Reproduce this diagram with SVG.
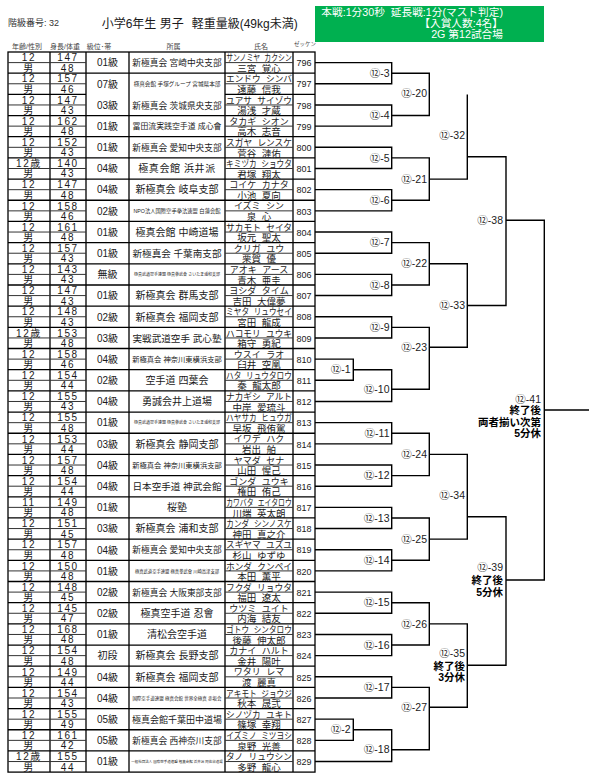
<svg xmlns="http://www.w3.org/2000/svg" width="589" height="784" viewBox="0 0 589 784">
<style>
text{font-family:"Liberation Sans","Noto Sans CJK JP",sans-serif;fill:#1a1a1a}
.c{text-anchor:middle}
.n{font-size:10px;letter-spacing:1.6px}
.g{font-size:10px}
.a{font-size:10px}
.k{font-size:9px;word-spacing:3px}
.j{font-size:9.5px;word-spacing:3px}
.z{font-size:9px}
.s{stroke:#333;stroke-width:1;fill:none}
.gl{stroke:#000;stroke-width:1.3;fill:none}
.cn{stroke:#000;stroke-width:1.4;fill:none}
.m{font-size:10.5px;text-anchor:end;fill:#222}
.mb{font-size:10.5px;font-weight:bold;text-anchor:end;fill:#000}
.h{font-size:7px;fill:#444;text-anchor:middle}
.w{fill:#fff;font-size:10.7px;text-anchor:end}
</style>
<rect width="589" height="784" fill="#fff"/>
<g id="header">
<text x="8" y="26" style="font-size:9px;fill:#333">階級番号: 32</text>
<text x="101.7" y="27.5" style="font-size:12px">小学6年生 男子</text>
<text x="191.7" y="27.5" style="font-size:12px">軽重量級(49kg未満)</text>
<rect x="315" y="6" width="229" height="36" fill="#00B050"/>
<text class="w" x="503" y="16" xml:space="preserve">本戦:1分30秒  延長戦:1分(マスト判定)</text>
<text class="w" x="503" y="27">【入賞人数:4名】</text>
<text class="w" x="503" y="38">2G 第12試合場</text>
<text class="h" x="27" y="49">年齢/性別</text>
<text class="h" x="65" y="49">身長/体重</text>
<text class="h" x="99" y="49">級位･帯</text>
<text class="h" x="173.5" y="49">所属</text>
<text class="h" x="261" y="49">氏名</text>
<text class="h" x="305" y="46" style="font-size:5.5px">ゼッケン</text>
</g>
<g id="table-grid">
<rect class="gl" x="8" y="52" width="307" height="720.1"/>
<path class="gl" d="M50 52V772.1M86 52V772.1M129 52V772.1M225 52V772.1M293 52V772.1"/>
<path class="gl" d="M8 73.18H315M8 94.36H86M225 94.36H315M8 115.54H315M8 136.72H315M8 157.9H315M8 179.08H315M8 200.26H315M8 221.44H315M8 242.62H315M8 263.8H315M8 284.98H315M8 306.16H315M8 327.34H315M8 348.52H315M8 369.7H315M8 390.88H315M8 412.06H315M8 433.24H315M8 454.42H315M8 475.6H315M8 496.78H315M8 517.96H315M8 539.14H315M8 560.32H315M8 581.5H315M8 602.68H315M8 623.86H315M8 645.04H315M8 666.22H315M8 687.4H315M8 708.58H315M8 729.76H315M8 750.94H315"/>
</g>
<g id="e796" transform="translate(0,52)"><path class="s" d="M8 10.6H86M225 10.6H293"/><text class="c n" x="29" y="9.3">12</text><text class="c n" x="68" y="9.3">147</text><text class="c n" x="29" y="19.6">男</text><text class="c n" x="68" y="19.6">48</text><text class="c g" x="107.5" y="14.4">01級</text><text class="c a" x="177" y="14.2" style="font-size:8.7px">新極真会 宮崎中央支部</text><text class="c k" transform="translate(259,9.2) scale(0.763,1)">サンノミヤ カクシン</text><text class="c j" x="259" y="19.8">三宮 覚心</text><text class="c z" x="304" y="14.3">796</text></g>
<g id="e797" transform="translate(0,73.18)"><path class="s" d="M8 10.6H86M225 10.6H293"/><text class="c n" x="29" y="9.3">12</text><text class="c n" x="68" y="9.3">157</text><text class="c n" x="29" y="19.6">男</text><text class="c n" x="68" y="19.6">46</text><text class="c g" x="107.5" y="14.4">07級</text><text class="c a" x="177" y="13.2" style="font-size:5.6px">極真会館 手塚グループ 宮城県本部</text><text class="c k" x="259" y="9.2" textLength="66" lengthAdjust="spacingAndGlyphs">エンドウ シンバ</text><text class="c j" x="259" y="19.8">遠藤 信我</text><text class="c z" x="304" y="14.3">797</text></g>
<g id="e798" transform="translate(0,94.36)"><path class="s" d="M8 10.6H86M225 10.6H293"/><text class="c n" x="29" y="9.3">12</text><text class="c n" x="68" y="9.3">147</text><text class="c n" x="29" y="19.6">男</text><text class="c n" x="68" y="19.6">43</text><text class="c g" x="107.5" y="14.4">03級</text><text class="c a" x="177" y="14.2" style="font-size:8.7px">新極真会 茨城県央支部</text><text class="c k" x="259" y="9.2" textLength="66" lengthAdjust="spacingAndGlyphs">ユアサ サイゾウ</text><text class="c j" x="259" y="19.8">湯浅 才蔵</text><text class="c z" x="304" y="14.3">798</text></g>
<g id="e799" transform="translate(0,115.54)"><path class="s" d="M8 10.6H86M225 10.6H293"/><text class="c n" x="29" y="9.3">12</text><text class="c n" x="68" y="9.3">162</text><text class="c n" x="29" y="19.6">男</text><text class="c n" x="68" y="19.6">48</text><text class="c g" x="107.5" y="14.4">01級</text><text class="c a" x="177" y="13.8" style="font-size:7.9px">冨田流実践空手道 成心會</text><text class="c k" x="259" y="9.2">タカギ シオン</text><text class="c j" x="259" y="19.8">高木 志音</text><text class="c z" x="304" y="14.3">799</text></g>
<g id="e800" transform="translate(0,136.72)"><path class="s" d="M8 10.6H86M225 10.6H293"/><text class="c n" x="29" y="9.3">12</text><text class="c n" x="68" y="9.3">152</text><text class="c n" x="29" y="19.6">男</text><text class="c n" x="68" y="19.6">43</text><text class="c g" x="107.5" y="14.4">01級</text><text class="c a" x="177" y="14.2" style="font-size:8.7px">新極真会 愛知中央支部</text><text class="c k" x="259" y="9.2" textLength="66" lengthAdjust="spacingAndGlyphs">スガヤ レンスケ</text><text class="c j" x="259" y="19.8">菅谷 漣佑</text><text class="c z" x="304" y="14.3">800</text></g>
<g id="e801" transform="translate(0,157.9)"><path class="s" d="M8 10.6H86M225 10.6H293"/><text class="c n" x="29" y="9.3">12歳</text><text class="c n" x="68" y="9.3">140</text><text class="c n" x="29" y="19.6">男</text><text class="c n" x="68" y="19.6">43</text><text class="c g" x="107.5" y="14.4">04級</text><text class="c a" x="177" y="14.4" style="letter-spacing:0.6px">極真会館 浜井派</text><text class="c k" transform="translate(259,9.2) scale(0.85,1)">キミヅカ ショウタ</text><text class="c j" x="259" y="19.8">君塚 翔太</text><text class="c z" x="304" y="14.3">801</text></g>
<g id="e802" transform="translate(0,179.08)"><path class="s" d="M8 10.6H86M225 10.6H293"/><text class="c n" x="29" y="9.3">12</text><text class="c n" x="68" y="9.3">147</text><text class="c n" x="29" y="19.6">男</text><text class="c n" x="68" y="19.6">48</text><text class="c g" x="107.5" y="14.4">04級</text><text class="c a" x="177" y="14.4">新極真会 岐阜支部</text><text class="c k" x="259" y="9.2">コイケ カナタ</text><text class="c j" x="259" y="19.8">小池 夏向</text><text class="c z" x="304" y="14.3">802</text></g>
<g id="e803" transform="translate(0,200.26)"><path class="s" d="M8 10.6H86M225 10.6H293"/><text class="c n" x="29" y="9.3">12</text><text class="c n" x="68" y="9.3">158</text><text class="c n" x="29" y="19.6">男</text><text class="c n" x="68" y="19.6">46</text><text class="c g" x="107.5" y="14.4">02級</text><text class="c a" x="177" y="12.6" style="font-size:5.3px">NPO法人国際空手拳法連盟 白蓮会館</text><text class="c k" x="259" y="9.2">イズミ シン</text><text class="c j" x="259" y="19.8">泉 心</text><text class="c z" x="304" y="14.3">803</text></g>
<g id="e804" transform="translate(0,221.44)"><path class="s" d="M8 10.6H86M225 10.6H293"/><text class="c n" x="29" y="9.3">12</text><text class="c n" x="68" y="9.3">161</text><text class="c n" x="29" y="19.6">男</text><text class="c n" x="68" y="19.6">48</text><text class="c g" x="107.5" y="14.4">01級</text><text class="c a" x="177" y="14.4">極真会館 中崎道場</text><text class="c k" x="259" y="9.2" textLength="66" lengthAdjust="spacingAndGlyphs">サカモト セイタ</text><text class="c j" x="259" y="19.8">坂元 聖太</text><text class="c z" x="304" y="14.3">804</text></g>
<g id="e805" transform="translate(0,242.62)"><path class="s" d="M8 10.6H86M225 10.6H293"/><text class="c n" x="29" y="9.3">12</text><text class="c n" x="68" y="9.3">157</text><text class="c n" x="29" y="19.6">男</text><text class="c n" x="68" y="19.6">43</text><text class="c g" x="107.5" y="14.4">01級</text><text class="c a" x="177" y="14.3" style="font-size:9.6px">新極真会 千葉南支部</text><text class="c k" x="259" y="9.2">クリガ ユウ</text><text class="c j" x="259" y="19.8">栗賀 優</text><text class="c z" x="304" y="14.3">805</text></g>
<g id="e806" transform="translate(0,263.8)"><path class="s" d="M8 10.6H86M225 10.6H293"/><text class="c n" x="29" y="9.3">12</text><text class="c n" x="68" y="9.3">143</text><text class="c n" x="29" y="19.6">男</text><text class="c n" x="68" y="19.6">43</text><text class="c g" x="107.5" y="14.4">無級</text><text class="c a" x="177" y="12.2" style="font-size:4px">極真武道空手連盟 極真拳武會 さいたま浦和支部</text><text class="c k" x="259" y="9.2">アオキ アース</text><text class="c j" x="259" y="19.8">青木 亜圭</text><text class="c z" x="304" y="14.3">806</text></g>
<g id="e807" transform="translate(0,284.98)"><path class="s" d="M8 10.6H86M225 10.6H293"/><text class="c n" x="29" y="9.3">12</text><text class="c n" x="68" y="9.3">147</text><text class="c n" x="29" y="19.6">男</text><text class="c n" x="68" y="19.6">43</text><text class="c g" x="107.5" y="14.4">01級</text><text class="c a" x="177" y="14.4">新極真会 群馬支部</text><text class="c k" x="259" y="9.2">ヨシダ タイム</text><text class="c j" x="259" y="19.8">吉田 大偉夢</text><text class="c z" x="304" y="14.3">807</text></g>
<g id="e808" transform="translate(0,306.16)"><path class="s" d="M8 10.6H86M225 10.6H293"/><text class="c n" x="29" y="9.3">12</text><text class="c n" x="68" y="9.3">148</text><text class="c n" x="29" y="19.6">男</text><text class="c n" x="68" y="19.6">43</text><text class="c g" x="107.5" y="14.4">02級</text><text class="c a" x="177" y="14.4">新極真会 福岡支部</text><text class="c k" transform="translate(259,9.2) scale(0.85,1)">ミヤタ リュウセイ</text><text class="c j" x="259" y="19.8">宮田 龍成</text><text class="c z" x="304" y="14.3">808</text></g>
<g id="e809" transform="translate(0,327.34)"><path class="s" d="M8 10.6H86M225 10.6H293"/><text class="c n" x="29" y="9.3">12歳</text><text class="c n" x="68" y="9.3">153</text><text class="c n" x="29" y="19.6">男</text><text class="c n" x="68" y="19.6">48</text><text class="c g" x="107.5" y="14.4">03級</text><text class="c a" x="177" y="14.3" style="font-size:9.6px">実戦武道空手 武心塾</text><text class="c k" x="259" y="9.2" textLength="66" lengthAdjust="spacingAndGlyphs">ハコモリ ユウキ</text><text class="c j" x="259" y="19.8">箱守 勇紀</text><text class="c z" x="304" y="14.3">809</text></g>
<g id="e810" transform="translate(0,348.52)"><path class="s" d="M8 10.6H86M225 10.6H293"/><text class="c n" x="29" y="9.3">12</text><text class="c n" x="68" y="9.3">158</text><text class="c n" x="29" y="19.6">男</text><text class="c n" x="68" y="19.6">46</text><text class="c g" x="107.5" y="14.4">04級</text><text class="c a" x="177" y="13.5" style="font-size:7.3px">新極真会 神奈川東横浜支部</text><text class="c k" x="259" y="9.2">ウスイ ラオ</text><text class="c j" x="259" y="19.8">臼井 空凰</text><text class="c z" x="304" y="14.3">810</text></g>
<g id="e811" transform="translate(0,369.7)"><path class="s" d="M8 10.6H86M225 10.6H293"/><text class="c n" x="29" y="9.3">12</text><text class="c n" x="68" y="9.3">154</text><text class="c n" x="29" y="19.6">男</text><text class="c n" x="68" y="19.6">44</text><text class="c g" x="107.5" y="14.4">02級</text><text class="c a" x="177" y="14.4">空手道 四葉会</text><text class="c k" transform="translate(259,9.2) scale(0.85,1)">ハタ リュウタロウ</text><text class="c j" x="259" y="19.8">秦 龍太郎</text><text class="c z" x="304" y="14.3">811</text></g>
<g id="e812" transform="translate(0,390.88)"><path class="s" d="M8 10.6H86M225 10.6H293"/><text class="c n" x="29" y="9.3">12</text><text class="c n" x="68" y="9.3">155</text><text class="c n" x="29" y="19.6">男</text><text class="c n" x="68" y="19.6">43</text><text class="c g" x="107.5" y="14.4">04級</text><text class="c a" x="177" y="14.4">勇誠会井上道場</text><text class="c k" x="259" y="9.2" textLength="66" lengthAdjust="spacingAndGlyphs">ナカギシ アルト</text><text class="c j" x="259" y="19.8">中岸 愛琉斗</text><text class="c z" x="304" y="14.3">812</text></g>
<g id="e813" transform="translate(0,412.06)"><path class="s" d="M8 10.6H86M225 10.6H293"/><text class="c n" x="29" y="9.3">12</text><text class="c n" x="68" y="9.3">155</text><text class="c n" x="29" y="19.6">男</text><text class="c n" x="68" y="19.6">48</text><text class="c g" x="107.5" y="14.4">01級</text><text class="c a" x="177" y="12.2" style="font-size:4px">極真武道空手連盟 極真拳武會 さいたま浦和支部</text><text class="c k" transform="translate(259,9.2) scale(0.85,1)">ハヤサカ ヒュウガ</text><text class="c j" x="259" y="19.8">早坂 飛侑駕</text><text class="c z" x="304" y="14.3">813</text></g>
<g id="e814" transform="translate(0,433.24)"><path class="s" d="M8 10.6H86M225 10.6H293"/><text class="c n" x="29" y="9.3">12</text><text class="c n" x="68" y="9.3">153</text><text class="c n" x="29" y="19.6">男</text><text class="c n" x="68" y="19.6">44</text><text class="c g" x="107.5" y="14.4">03級</text><text class="c a" x="177" y="14.4">新極真会 静岡支部</text><text class="c k" x="259" y="9.2">イワデ ハク</text><text class="c j" x="259" y="19.8">岩出 舶</text><text class="c z" x="304" y="14.3">814</text></g>
<g id="e815" transform="translate(0,454.42)"><path class="s" d="M8 10.6H86M225 10.6H293"/><text class="c n" x="29" y="9.3">12</text><text class="c n" x="68" y="9.3">157</text><text class="c n" x="29" y="19.6">男</text><text class="c n" x="68" y="19.6">48</text><text class="c g" x="107.5" y="14.4">04級</text><text class="c a" x="177" y="13.5" style="font-size:7.3px">新極真会 神奈川東横浜支部</text><text class="c k" x="259" y="9.2">ヤマダ セナ</text><text class="c j" x="259" y="19.8">山田 惺己</text><text class="c z" x="304" y="14.3">815</text></g>
<g id="e816" transform="translate(0,475.6)"><path class="s" d="M8 10.6H86M225 10.6H293"/><text class="c n" x="29" y="9.3">12</text><text class="c n" x="68" y="9.3">154</text><text class="c n" x="29" y="19.6">男</text><text class="c n" x="68" y="19.6">44</text><text class="c g" x="107.5" y="14.4">04級</text><text class="c a" x="177" y="14.3" style="font-size:9.6px">日本空手道 神武会館</text><text class="c k" x="259" y="9.2">ゴンダ ユウキ</text><text class="c j" x="259" y="19.8">権田 侑己</text><text class="c z" x="304" y="14.3">816</text></g>
<g id="e817" transform="translate(0,496.78)"><path class="s" d="M8 10.6H86M225 10.6H293"/><text class="c n" x="29" y="9.3">11</text><text class="c n" x="68" y="9.3">149</text><text class="c n" x="29" y="19.6">男</text><text class="c n" x="68" y="19.6">48</text><text class="c g" x="107.5" y="14.4">01級</text><text class="c a" x="177" y="14.4">桜塾</text><text class="c k" transform="translate(259,9.2) scale(0.763,1)">カワバタ エイタロウ</text><text class="c j" x="259" y="19.8">川端 英太朗</text><text class="c z" x="304" y="14.3">817</text></g>
<g id="e818" transform="translate(0,517.96)"><path class="s" d="M8 10.6H86M225 10.6H293"/><text class="c n" x="29" y="9.3">12</text><text class="c n" x="68" y="9.3">151</text><text class="c n" x="29" y="19.6">男</text><text class="c n" x="68" y="19.6">45</text><text class="c g" x="107.5" y="14.4">03級</text><text class="c a" x="177" y="14.4">新極真会 浦和支部</text><text class="c k" transform="translate(259,9.2) scale(0.85,1)">カンダ シンノスケ</text><text class="c j" x="259" y="19.8">神田 真之介</text><text class="c z" x="304" y="14.3">818</text></g>
<g id="e819" transform="translate(0,539.14)"><path class="s" d="M8 10.6H86M225 10.6H293"/><text class="c n" x="29" y="9.3">12</text><text class="c n" x="68" y="9.3">157</text><text class="c n" x="29" y="19.6">男</text><text class="c n" x="68" y="19.6">48</text><text class="c g" x="107.5" y="14.4">04級</text><text class="c a" x="177" y="14.2" style="font-size:8.7px">新極真会 愛知中央支部</text><text class="c k" x="259" y="9.2" textLength="66" lengthAdjust="spacingAndGlyphs">スギヤマ ユズユ</text><text class="c j" x="259" y="19.8">杉山 ゆずゆ</text><text class="c z" x="304" y="14.3">819</text></g>
<g id="e820" transform="translate(0,560.32)"><path class="s" d="M8 10.6H86M225 10.6H293"/><text class="c n" x="29" y="9.3">12</text><text class="c n" x="68" y="9.3">150</text><text class="c n" x="29" y="19.6">男</text><text class="c n" x="68" y="19.6">48</text><text class="c g" x="107.5" y="14.4">01級</text><text class="c a" x="177" y="12.3" style="font-size:4.3px">極真武道空手連盟 極真拳武會 川崎高津支部</text><text class="c k" x="259" y="9.2" textLength="66" lengthAdjust="spacingAndGlyphs">ホンダ クンペイ</text><text class="c j" x="259" y="19.8">本田 薫平</text><text class="c z" x="304" y="14.3">820</text></g>
<g id="e821" transform="translate(0,581.5)"><path class="s" d="M8 10.6H86M225 10.6H293"/><text class="c n" x="29" y="9.3">12</text><text class="c n" x="68" y="9.3">148</text><text class="c n" x="29" y="19.6">男</text><text class="c n" x="68" y="19.6">45</text><text class="c g" x="107.5" y="14.4">02級</text><text class="c a" x="177" y="14.2" style="font-size:8.7px">新極真会 大阪東部支部</text><text class="c k" x="259" y="9.2" textLength="66" lengthAdjust="spacingAndGlyphs">フクダ リョウタ</text><text class="c j" x="259" y="19.8">福田 遼太</text><text class="c z" x="304" y="14.3">821</text></g>
<g id="e822" transform="translate(0,602.68)"><path class="s" d="M8 10.6H86M225 10.6H293"/><text class="c n" x="29" y="9.3">12</text><text class="c n" x="68" y="9.3">145</text><text class="c n" x="29" y="19.6">男</text><text class="c n" x="68" y="19.6">47</text><text class="c g" x="107.5" y="14.4">02級</text><text class="c a" x="177" y="14.4">極真空手道 忍會</text><text class="c k" x="259" y="9.2">ウツミ ユイト</text><text class="c j" x="259" y="19.8">内海 結友</text><text class="c z" x="304" y="14.3">822</text></g>
<g id="e823" transform="translate(0,623.86)"><path class="s" d="M8 10.6H86M225 10.6H293"/><text class="c n" x="29" y="9.3">12</text><text class="c n" x="68" y="9.3">168</text><text class="c n" x="29" y="19.6">男</text><text class="c n" x="68" y="19.6">48</text><text class="c g" x="107.5" y="14.4">01級</text><text class="c a" x="177" y="14.4">清松会空手道</text><text class="c k" transform="translate(259,9.2) scale(0.85,1)">ゴトウ シンタロウ</text><text class="c j" x="259" y="19.8">後藤 伸太郎</text><text class="c z" x="304" y="14.3">823</text></g>
<g id="e824" transform="translate(0,645.04)"><path class="s" d="M8 10.6H86M225 10.6H293"/><text class="c n" x="29" y="9.3">12</text><text class="c n" x="68" y="9.3">154</text><text class="c n" x="29" y="19.6">男</text><text class="c n" x="68" y="19.6">48</text><text class="c g" x="107.5" y="14.4">初段</text><text class="c a" x="177" y="14.4">新極真会 長野支部</text><text class="c k" x="259" y="9.2">カナイ ハルト</text><text class="c j" x="259" y="19.8">金井 陽叶</text><text class="c z" x="304" y="14.3">824</text></g>
<g id="e825" transform="translate(0,666.22)"><path class="s" d="M8 10.6H86M225 10.6H293"/><text class="c n" x="29" y="9.3">12</text><text class="c n" x="68" y="9.3">149</text><text class="c n" x="29" y="19.6">男</text><text class="c n" x="68" y="19.6">44</text><text class="c g" x="107.5" y="14.4">04級</text><text class="c a" x="177" y="14.4">新極真会 福岡支部</text><text class="c k" x="259" y="9.2">ワタリ レマ</text><text class="c j" x="259" y="19.8">渡 麗真</text><text class="c z" x="304" y="14.3">825</text></g>
<g id="e826" transform="translate(0,687.4)"><path class="s" d="M8 10.6H86M225 10.6H293"/><text class="c n" x="29" y="9.3">12</text><text class="c n" x="68" y="9.3">154</text><text class="c n" x="29" y="19.6">男</text><text class="c n" x="68" y="19.6">43</text><text class="c g" x="107.5" y="14.4">04級</text><text class="c a" x="177" y="12.4" style="font-size:4.5px">国際空手道連盟 極真会館 世界全極真 赤坂会</text><text class="c k" transform="translate(259,9.2) scale(0.85,1)">アキモト ジョウジ</text><text class="c j" x="259" y="19.8">秋本 晟弐</text><text class="c z" x="304" y="14.3">826</text></g>
<g id="e827" transform="translate(0,708.58)"><path class="s" d="M8 10.6H86M225 10.6H293"/><text class="c n" x="29" y="9.3">12</text><text class="c n" x="68" y="9.3">155</text><text class="c n" x="29" y="19.6">男</text><text class="c n" x="68" y="19.6">49</text><text class="c g" x="107.5" y="14.4">05級</text><text class="c a" x="177" y="14.1" style="font-size:9px">極真会館千葉田中道場</text><text class="c k" x="259" y="9.2" textLength="66" lengthAdjust="spacingAndGlyphs">シノヅカ ユキト</text><text class="c j" x="259" y="19.8">篠塚 幸翔</text><text class="c z" x="304" y="14.3">827</text></g>
<g id="e828" transform="translate(0,729.76)"><path class="s" d="M8 10.6H86M225 10.6H293"/><text class="c n" x="29" y="9.3">12</text><text class="c n" x="68" y="9.3">161</text><text class="c n" x="29" y="19.6">男</text><text class="c n" x="68" y="19.6">42</text><text class="c g" x="107.5" y="14.4">05級</text><text class="c a" x="177" y="14.2" style="font-size:8.7px">新極真会 西神奈川支部</text><text class="c k" transform="translate(259,9.2) scale(0.85,1)">イズミノ ミツヨシ</text><text class="c j" x="259" y="19.8">泉野 光善</text><text class="c z" x="304" y="14.3">828</text></g>
<g id="e829" transform="translate(0,750.94)"><path class="s" d="M8 10.6H86M225 10.6H293"/><text class="c n" x="29" y="9.3">12歳</text><text class="c n" x="68" y="9.3">155</text><text class="c n" x="29" y="19.6">男</text><text class="c n" x="68" y="19.6">44</text><text class="c g" x="107.5" y="14.4">01級</text><text class="c a" x="177" y="12" style="font-size:3.5px">一般社団法人 国際空手道連盟 極真会館 浜井派 阿佐谷道場</text><text class="c k" x="259" y="9.2" textLength="66" lengthAdjust="spacingAndGlyphs">タノ リュウシン</text><text class="c j" x="259" y="19.8">多野 龍心</text><text class="c z" x="304" y="14.3">829</text></g>
<g id="connectors">
<path class="cn" d="M315 62.59H391.7V83.77H315M315 104.95H391.7V126.13H315M315 147.31H391.7V168.49H315M315 189.67H391.7V210.85H315M315 232.03H391.7V253.21H315M315 274.39H391.7V295.57H315M315 316.75H391.7V337.93H315M315 359.11H353.3V380.29H315M353.3 369.7H391.7V401.47H315M315 422.65H391.7V443.83H315M315 465.01H391.7V486.19H315M315 507.37H391.7V528.55H315M315 549.73H391.7V570.91H315M315 592.09H391.7V613.27H315M315 634.45H391.7V655.63H315M315 676.81H391.7V697.99H315M315 719.17H353.3V740.35H315M353.3 729.76H391.7V761.53H315"/>
<path class="cn" d="M391.7 73.18H429.3V115.54H391.7M391.7 157.9H429.3V200.26H391.7M391.7 242.62H429.3V284.98H391.7M391.7 327.34H429.3V389.3H391.7M391.7 433.24H429.3V475.6H391.7M391.7 517.96H429.3V560.32H391.7M391.7 602.68H429.3V645.04H391.7M391.7 687.4H429.3V749.7H391.7"/>
<path class="cn" d="M467.3 94.4V179.08H429.3M429.3 263.8H467.3V347.3H429.3M429.3 454.42H467.3V539.14H429.3M429.3 623.86H467.3V707.3H429.3"/>
<path class="cn" d="M467.3 156.7H506V305.5H467.3M467.3 516.7H506V665.3H467.3"/>
<path class="cn" d="M506 220.3H544.3V580H506M544.3 410H589"/>
</g>
<g id="m12-3"><text class="m" x="389.5" y="76.8">⑫-3</text></g>
<g id="m12-4"><text class="m" x="389.5" y="119.1">⑫-4</text></g>
<g id="m12-5"><text class="m" x="389.5" y="161.5">⑫-5</text></g>
<g id="m12-6"><text class="m" x="389.5" y="203.9">⑫-6</text></g>
<g id="m12-7"><text class="m" x="389.5" y="246.2">⑫-7</text></g>
<g id="m12-8"><text class="m" x="389.5" y="288.6">⑫-8</text></g>
<g id="m12-9"><text class="m" x="389.5" y="330.9">⑫-9</text></g>
<g id="m12-1"><text class="m" x="350.5" y="373.3">⑫-1</text></g>
<g id="m12-10"><text class="m" x="389.5" y="392.9">⑫-10</text></g>
<g id="m12-11"><text class="m" x="389.5" y="436.8">⑫-11</text></g>
<g id="m12-12"><text class="m" x="389.5" y="479.2">⑫-12</text></g>
<g id="m12-13"><text class="m" x="389.5" y="521.6">⑫-13</text></g>
<g id="m12-14"><text class="m" x="389.5" y="563.9">⑫-14</text></g>
<g id="m12-15"><text class="m" x="389.5" y="606.3">⑫-15</text></g>
<g id="m12-16"><text class="m" x="389.5" y="648.6">⑫-16</text></g>
<g id="m12-17"><text class="m" x="389.5" y="691">⑫-17</text></g>
<g id="m12-2"><text class="m" x="350.5" y="733.4">⑫-2</text></g>
<g id="m12-18"><text class="m" x="389.5" y="753.3">⑫-18</text></g>
<g id="m12-20"><text class="m" x="427" y="97">⑫-20</text></g>
<g id="m12-21"><text class="m" x="427" y="182.7">⑫-21</text></g>
<g id="m12-22"><text class="m" x="427" y="267.4">⑫-22</text></g>
<g id="m12-23"><text class="m" x="427" y="350.9">⑫-23</text></g>
<g id="m12-24"><text class="m" x="427" y="458">⑫-24</text></g>
<g id="m12-25"><text class="m" x="427" y="542.7">⑫-25</text></g>
<g id="m12-26"><text class="m" x="427" y="627.5">⑫-26</text></g>
<g id="m12-27"><text class="m" x="427" y="710.9">⑫-27</text></g>
<g id="m12-32"><text class="m" x="465" y="139.3">⑫-32</text></g>
<g id="m12-33"><text class="m" x="465" y="309.1">⑫-33</text></g>
<g id="m12-34"><text class="m" x="465" y="499.3">⑫-34</text></g>
<g id="m12-35"><text class="m" x="465" y="656.6">⑫-35</text><text class="mb" x="465" y="669.5">終了後</text><text class="mb" x="465" y="681">3分休</text></g>
<g id="m12-38"><text class="m" x="503" y="223.6">⑫-38</text></g>
<g id="m12-39"><text class="m" x="503" y="571.3">⑫-39</text><text class="mb" x="503" y="583.8">終了後</text><text class="mb" x="503" y="595.6">5分休</text></g>
<g id="m12-41"><text class="m" x="541" y="402.6">⑫-41</text><text class="mb" x="541" y="414">終了後</text><text class="mb" x="541" y="425.6">両者揃い次第</text><text class="mb" x="541" y="437">5分休</text></g>
</svg>
